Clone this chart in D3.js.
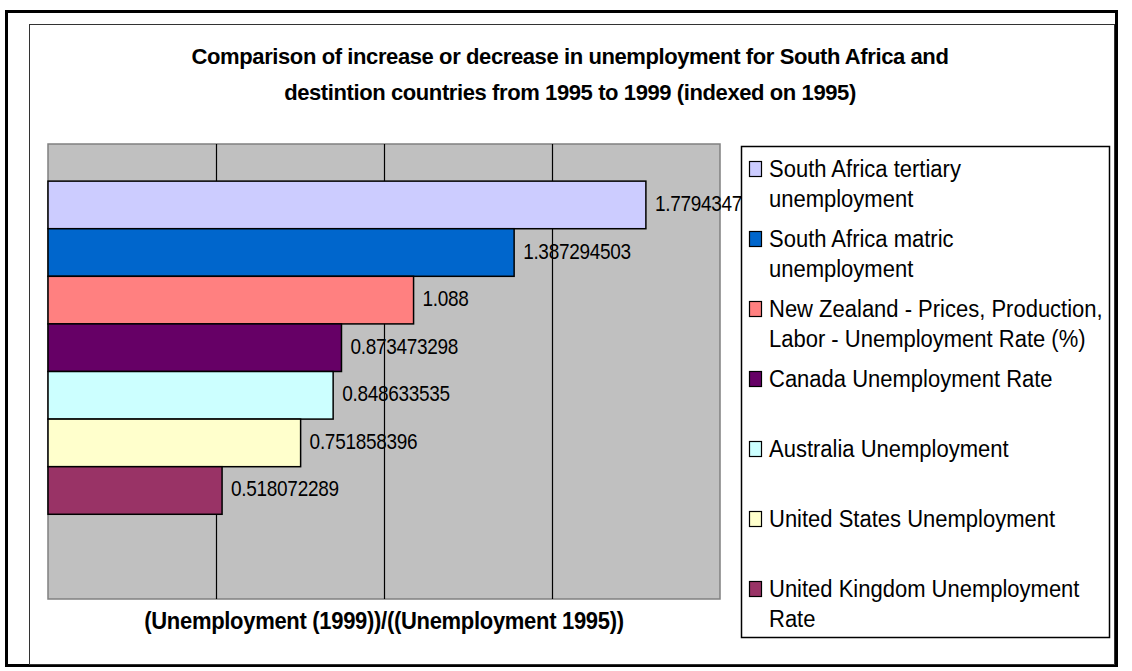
<!DOCTYPE html>
<html>
<head>
<meta charset="utf-8">
<script src="https://cdn.jsdelivr.net/npm/d3@7"></script>
<style>
  body { margin: 0; background: #fff; }
  text { font-family: "Liberation Sans", Arial, sans-serif; fill: #000; }
</style>
</head>
<body>
<div id="content"></div>
<script>
// series names (top to bottom) and the indexed values 1999/1995
const series = [
  'South Africa tertiary unemployment',
  'South Africa matric unemployment',
  'New Zealand - Prices, Production, Labor - Unemployment Rate (%)',
  'Canada Unemployment Rate',
  'Australia Unemployment',
  'United States Unemployment',
  'United Kingdom Unemployment Rate'
];
const values = [1.77943472, 1.387294503, 1.088, 0.873473298, 0.848633535, 0.751858396, 0.518072289];
const colors = ['#CCCCFF', '#0066CC', '#FF8080', '#660066', '#CCFFFF', '#FFFFCC', '#993366'];
// legend text as it wraps in the box
const legendLines = [
  ['South Africa tertiary', 'unemployment'],
  ['South Africa matric', 'unemployment'],
  ['New Zealand - Prices, Production,', 'Labor - Unemployment Rate (%)'],
  ['Canada Unemployment Rate'],
  ['Australia Unemployment'],
  ['United States Unemployment'],
  ['United Kingdom Unemployment', 'Rate']
];
const titleLines = [
  'Comparison of increase or decrease in unemployment for South Africa and',
  'destintion countries from 1995 to 1999 (indexed on 1995)'
];
const axisTitle = '(Unemployment (1999))/((Unemployment 1995))';

const width = 1132, height = 671;

const plot = { left: 48, right: 720, top: 144, bottom: 599 };

const svg = d3.select('#content').append('svg')
  .attr('width', width)
  .attr('height', height);

// text helper: drawn at (x, y), optionally stretched vertically (source picture is a bit tall)
function addText(g, x, y, str, size, opts = {}) {
  const sy = opts.stretch || 1.1;
  return g.append('text')
    .attr('transform', `translate(${x},${y}) scale(1,${sy})`)
    .attr('font-size', size)
    .attr('font-weight', opts.bold ? 'bold' : null)
    .attr('text-anchor', opts.anchor || 'start')
    .attr('letter-spacing', opts.spacing || null)
    .text(str);
}

// frames
svg.append('rect')
  .attr('x', 6.5).attr('y', 11.5)
  .attr('width', 1110).attr('height', 654)
  .attr('fill', '#fff').attr('stroke', '#000').attr('stroke-width', 3);

svg.append('rect')
  .attr('x', 29.5).attr('y', 24.5)
  .attr('width', 1085).attr('height', 640)
  .attr('fill', 'none').attr('stroke', '#333').attr('stroke-width', 1);

const x = d3.scaleLinear()
  .domain([0, 2])
  .range([plot.left, plot.right]);

// an 8th empty slot keeps the bars to the upper part like the original
const y = d3.scaleBand()
  .domain(series.concat(['']))
  .range([plot.top, plot.bottom])
  .paddingInner(0)
  .paddingOuter(0.78);

svg.append('rect')
  .attr('x', plot.left).attr('y', plot.top)
  .attr('width', plot.right - plot.left).attr('height', plot.bottom - plot.top)
  .attr('fill', '#C0C0C0').attr('stroke', '#808080').attr('stroke-width', 1.5);

svg.append('g')
  .selectAll('line')
  .data(x.ticks(4).filter(t => t > 0 && t < 2))
  .join('line')
  .attr('x1', d => Math.round(x(d)) + 0.5).attr('x2', d => Math.round(x(d)) + 0.5)
  .attr('y1', plot.top).attr('y2', plot.bottom)
  .attr('stroke', '#000').attr('stroke-width', 1.2);

const data = series.map((s, i) => ({ name: s, value: values[i], color: colors[i] }));

svg.append('g')
  .selectAll('rect')
  .data(data)
  .join('rect')
  .attr('x', x(0))
  .attr('y', d => y(d.name))
  .attr('width', d => x(d.value) - x(0))
  .attr('height', y.bandwidth())
  .attr('fill', d => d.color)
  .attr('stroke', '#000')
  .attr('stroke-width', 1.5);

const labels = svg.append('g');
data.forEach(d => {
  addText(labels, x(d.value) + 9, y(d.name) + y.bandwidth() / 2 + 6, String(d.value), 19, { spacing: -0.3, stretch: 1.15 });
});

// title
const title = svg.append('g');
addText(title, 570, 64, titleLines[0], 22, { bold: true, anchor: 'middle', spacing: -0.4, stretch: 1 });
addText(title, 570, 100, titleLines[1], 22, { bold: true, anchor: 'middle', spacing: -0.4, stretch: 1 });

addText(svg, (plot.left + plot.right) / 2, 629, axisTitle, 22, { bold: true, anchor: 'middle', spacing: -0.3, stretch: 1.05 });

// legend, drawn last so it covers the end of the first label
const legend = svg.append('g');
legend.append('rect')
  .attr('x', 741.5).attr('y', 146.5)
  .attr('width', 368).attr('height', 491)
  .attr('fill', '#fff').attr('stroke', '#000').attr('stroke-width', 1.5);

const legendY = d3.scaleLinear().domain([0, 1]).range([177, 247]);

data.forEach((d, i) => {
  const base = legendY(i);
  legend.append('rect')
    .attr('x', 749.5).attr('y', base - 15.5)
    .attr('width', 12).attr('height', 15)
    .attr('fill', d.color).attr('stroke', '#000').attr('stroke-width', 1.2);
  legendLines[i].forEach((line, k) => {
    addText(legend, 769, base + k * 30, line, 22, { stretch: 1.05 });
  });
});
</script>
</body>
</html>
